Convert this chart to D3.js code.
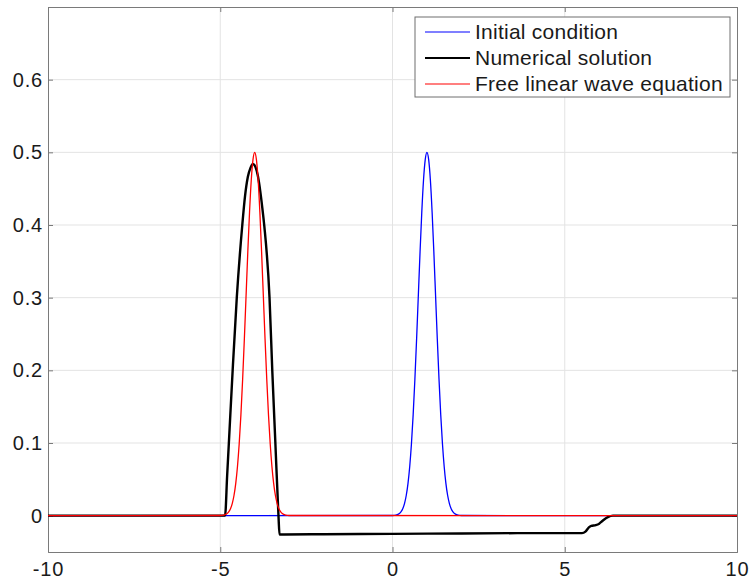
<!DOCTYPE html>
<html>
<head>
<meta charset="utf-8">
<script src="https://cdn.jsdelivr.net/npm/d3@7"></script>
<style>
    body { margin: 0; background: #fff; }
    #chart-area { width: 749px; height: 579px; }
    text { font-family: "Liberation Sans", Arial, sans-serif; }
</style>
</head>
<body>
<div id="chart-area"></div>
<script>
/* * * * * * * * * * * * * *
*      Wave pulse plot     *
* * * * * * * * * * * * * */

let xTicks = [-10, -5, 0, 5, 10];
let yTicks = [0, 0.1, 0.2, 0.3, 0.4, 0.5, 0.6];

let legendLabels = ["Initial condition", "Numerical solution", "Free linear wave equation"];

// initial condition (pulse centred at x = 1)
let initialX = [-10, 0, 0.1, 0.2, 0.25, 0.3, 0.35, 0.4, 0.45, 0.5, 0.55, 0.6, 0.65, 0.7, 0.75, 0.8, 0.85, 0.9, 0.95,
    1, 1.05, 1.1, 1.15, 1.2, 1.25, 1.3, 1.35, 1.4, 1.45, 1.5, 1.55, 1.6, 1.65, 1.7, 1.75, 1.8, 1.9, 2, 10];
let initialY = [0, 0.0002, 0.0008, 0.0030, 0.0056, 0.0099, 0.0170, 0.0281, 0.0445, 0.0677, 0.0990, 0.1390, 0.1877, 0.2434, 0.3033, 0.3631, 0.4176, 0.4616, 0.4900,
    0.5, 0.4900, 0.4616, 0.4176, 0.3631, 0.3033, 0.2434, 0.1877, 0.1390, 0.0990, 0.0677, 0.0445, 0.0281, 0.0170, 0.0099, 0.0056, 0.0030, 0.0008, 0.0002, 0];

// numerical solution
let numericalX = [-10, -4.86, -4.80, -4.75, -4.64, -4.52, -4.36, -4.28, -4.20, -4.12, -4.05, -3.98, -3.91, -3.84, -3.78, -3.72, -3.57, -3.49, -3.40, -3.31,
    -3.28, -2, 0, 2, 4, 5.5, 5.6, 5.7, 5.77, 5.9, 6.0, 6.1, 6.25, 6.4, 10];
let numericalY = [0, 0, 0.055, 0.1, 0.2, 0.3, 0.4, 0.44, 0.466, 0.479, 0.484, 0.480, 0.468, 0.447, 0.424, 0.398, 0.3, 0.2, 0.1, 0,
    -0.026, -0.0255, -0.025, -0.0245, -0.024, -0.024, -0.022, -0.016, -0.014, -0.013, -0.011, -0.007, -0.002, 0, 0];

// free linear wave equation (pulse centred at x = -4)
let freeX = [-10, -5, -4.9, -4.8, -4.75, -4.7, -4.65, -4.6, -4.55, -4.5, -4.45, -4.4, -4.35, -4.3, -4.25, -4.2, -4.15, -4.1, -4.05,
    -4, -3.95, -3.9, -3.85, -3.8, -3.75, -3.7, -3.65, -3.6, -3.55, -3.5, -3.45, -3.4, -3.35, -3.3, -3.25, -3.2, -3.1, -3, 10];
let freeY = [0, 0.0002, 0.0008, 0.0030, 0.0056, 0.0099, 0.0170, 0.0281, 0.0445, 0.0677, 0.0990, 0.1390, 0.1877, 0.2434, 0.3033, 0.3631, 0.4176, 0.4616, 0.4900,
    0.5, 0.4900, 0.4616, 0.4176, 0.3631, 0.3033, 0.2434, 0.1877, 0.1390, 0.0990, 0.0677, 0.0445, 0.0281, 0.0170, 0.0099, 0.0056, 0.0030, 0.0008, 0.0002, 0];

let series = [
    {name: legendLabels[0], xs: initialX, ys: initialY, color: "#0000ff", width: 1.3},
    {name: legendLabels[1], xs: numericalX, ys: numericalY, color: "#000000", width: 2.4},
    {name: legendLabels[2], xs: freeX, ys: freeY, color: "#ff0000", width: 1.3}
];

let margin = {top: 7, right: 12, bottom: 27, left: 48};
let width = 749 - margin.left - margin.right;
let height = 579 - margin.top - margin.bottom;

let svg = d3.select("#chart-area").append("svg")
    .attr("width", 749)
    .attr("height", 579);

let g = svg.append("g")
    .attr("transform", `translate(${margin.left}, ${margin.top})`);

let x = d3.scaleLinear().domain([-10, 10]).range([0, width]);
let y = d3.scaleLinear().domain([-0.05, 0.7]).range([height, 0]);

// grid
g.append("g").selectAll("line")
    .data(xTicks.slice(1, -1))
    .enter().append("line")
    .attr("x1", d => x(d)).attr("x2", d => x(d))
    .attr("y1", 0).attr("y2", height)
    .style("stroke", "#e3e3e3").style("stroke-width", 1);

g.append("g").selectAll("line")
    .data(yTicks)
    .enter().append("line")
    .attr("x1", 0).attr("x2", width)
    .attr("y1", d => y(d)).attr("y2", d => y(d))
    .style("stroke", "#e3e3e3").style("stroke-width", 1);

// axes (inward ticks on all four sides)
let axisColor = "#7a7a7a";
let xBottom = g.append("g").attr("transform", `translate(0, ${height})`)
    .call(d3.axisBottom(x).tickValues(xTicks).tickSize(-5).tickPadding(10).tickFormat(d => String(d)));
let xTop = g.append("g")
    .call(d3.axisTop(x).tickValues(xTicks).tickSize(-5).tickFormat(""));
let yLeft = g.append("g")
    .call(d3.axisLeft(y).tickValues(yTicks).tickSize(-5).tickPadding(5).tickFormat(d => d === 0 ? "0" : d3.format(".1f")(d)));
let yRight = g.append("g").attr("transform", `translate(${width}, 0)`)
    .call(d3.axisRight(y).tickValues(yTicks).tickSize(-5).tickFormat(""));

[xBottom, xTop, yLeft, yRight].forEach(a => {
    a.select(".domain").style("stroke", axisColor);
    a.selectAll(".tick line").style("stroke", axisColor);
    a.selectAll("text").style("font-size", "20px").style("fill", "#1a1a1a")
        .style("letter-spacing", "0.8px")
        .style("font-family", '"Liberation Sans", Arial, sans-serif');
});

// lines
let line = d3.line()
    .x(d => x(d[0]))
    .y(d => y(d[1]))
    .curve(d3.curveMonotoneX);

series.forEach(s => {
    let pts = s.xs.map((v, i) => [v, s.ys[i]]);
    g.append("path")
        .datum(pts)
        .attr("d", line)
        .style("fill", "none")
        .style("stroke", s.color)
        .style("stroke-width", s.width)
        .style("stroke-linejoin", "round");
});

// legend
let legend = svg.append("g").attr("transform", "translate(415, 17)");
legend.append("rect")
    .attr("width", 315).attr("height", 80)
    .style("fill", "#fff").style("stroke", "#6e6e6e").style("stroke-width", 1);

series.forEach((s, i) => {
    let row = legend.append("g").attr("transform", `translate(0, ${15 + i * 26})`);
    row.append("line")
        .attr("x1", 10).attr("x2", 55).attr("y1", 0).attr("y2", 0)
        .style("stroke", s.color).style("stroke-width", s.width > 2 ? 2 : 1.2);
    row.append("text")
        .attr("x", 60).attr("y", 0).attr("dy", "0.35em")
        .style("font-size", "21px").style("fill", "#1a1a1a")
        .style("letter-spacing", "0.25px")
        .text(s.name);
});
</script>
</body>
</html>
